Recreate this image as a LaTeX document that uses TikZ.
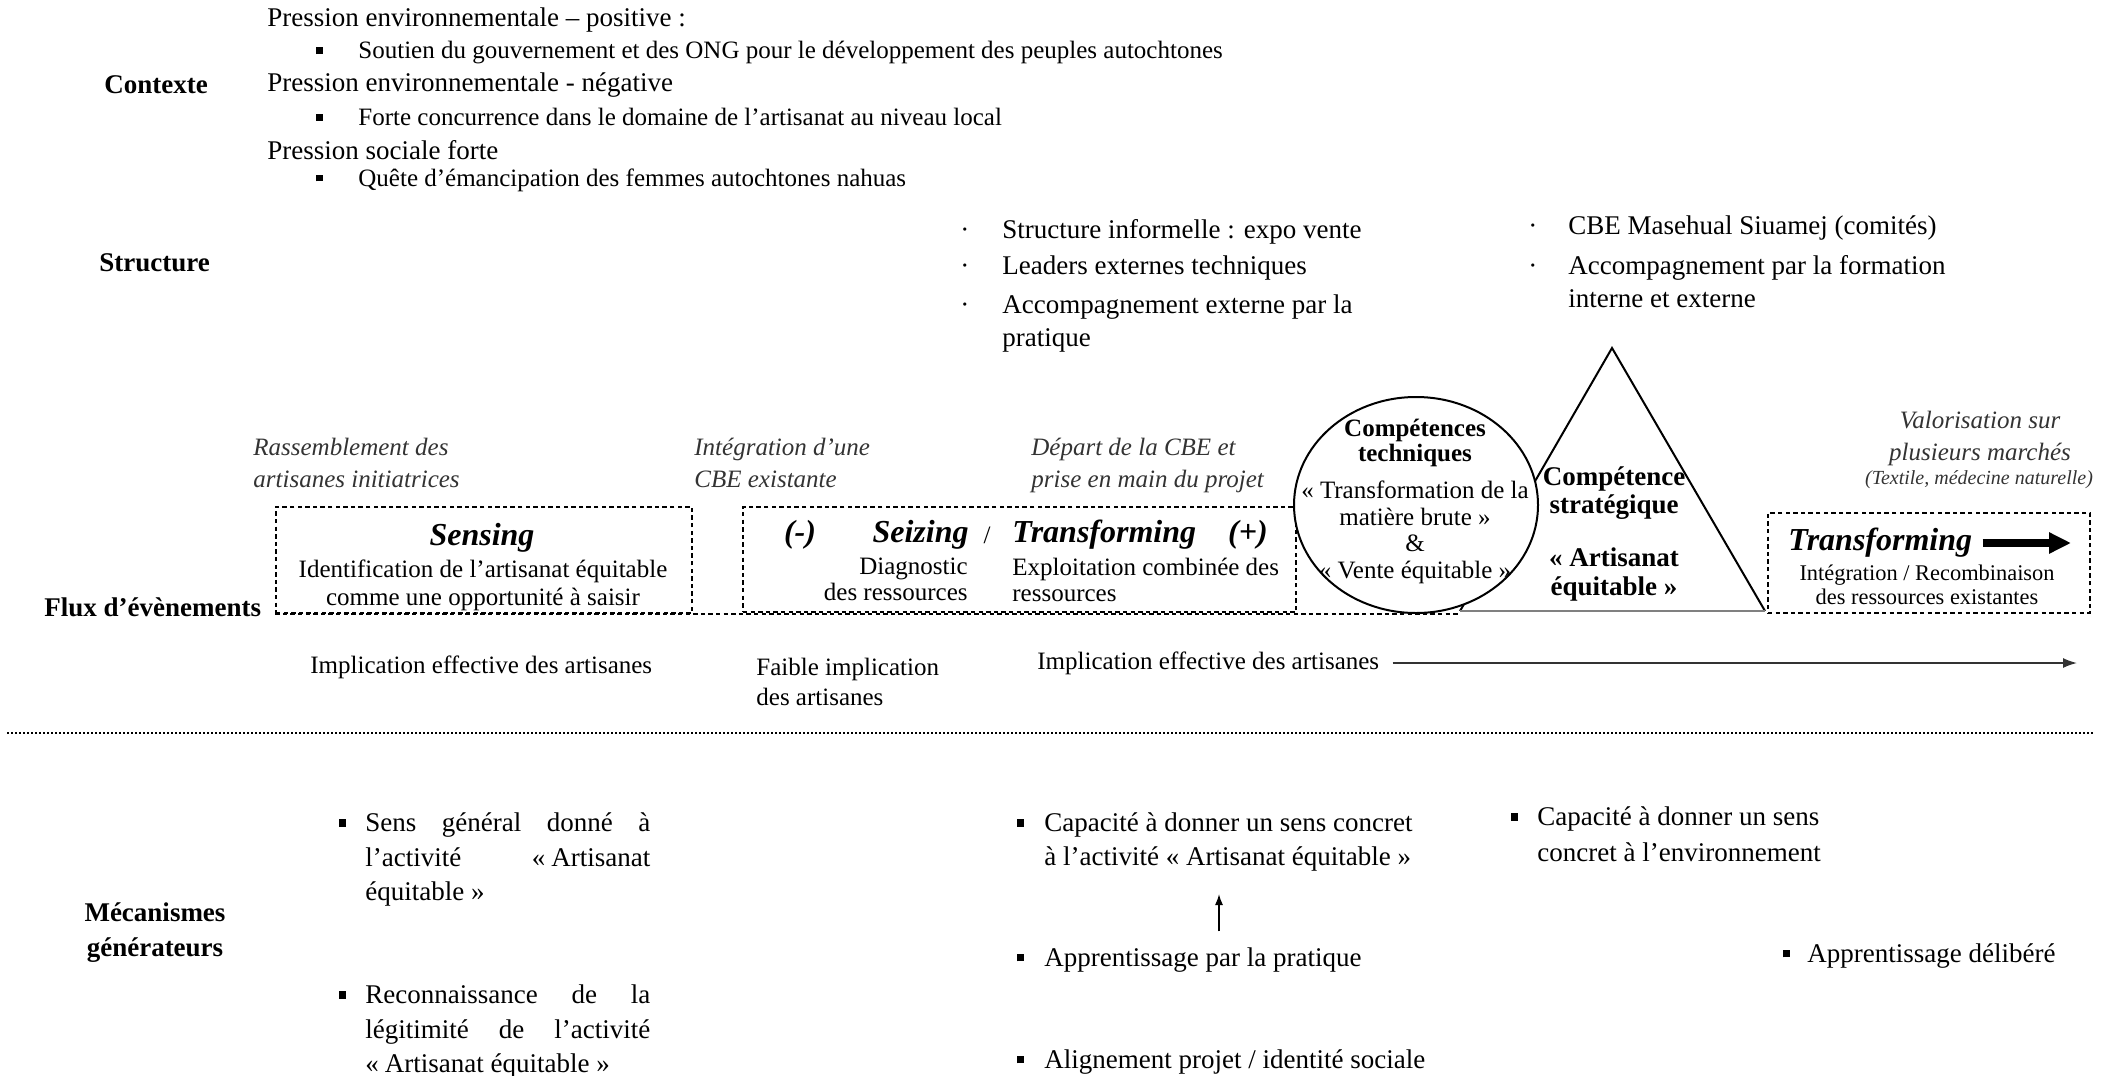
\documentclass[tikz,border=0pt]{standalone}
\usepackage{fontspec}
\setmainfont{Liberation Serif}
\usetikzlibrary{arrows.meta,shapes.geometric}
\newcommand{\sqbul}{\rule[0.19em]{0.27em}{0.27em}}

\begin{document}
\begin{tikzpicture}[x=0.5pt,y=-0.5pt,
	cat/.style={anchor=west, inner sep=0pt, font=\fontsize{13.5}{17.5}\selectfont\bfseries},
	big/.style={anchor=west, inner sep=0pt, font=\fontsize{13.5}{17.5}\selectfont},
	med/.style={anchor=west, inner sep=0pt, font=\fontsize{12.5}{16.5}\selectfont},
	evt/.style={anchor=north west, inner sep=0pt, align=left, text=black!80, font=\fontsize{12.5}{16}\selectfont\itshape},
	title/.style={inner sep=0pt, font=\fontsize{16}{18}\selectfont\bfseries\itshape},
	phase/.style={draw, dash pattern=on 2.2pt off 1.6pt, line width=0.8pt}]
	\useasboundingbox (0,0) rectangle (2107,1075);

	\node (K1) at (104,85)	[cat]	{Contexte};
	\node (K2) at (99,263)	[cat]	{Structure};
	\node (K3) at (44,607)	[cat]	{Flux d’évènements};
	\node (K4) at (155,902.7)	[cat, anchor=north, align=center]	{Mécanismes\\générateurs};

	\node (P1) at (267,20)	[big]	{Pression environnementale – positive :};
	\node (P1a) at (316,53)	[med]	{\makebox[21pt][l]{\sqbul}Soutien du gouvernement et des ONG pour le développement des peuples autochtones};
	\node (P2) at (267,85)	[big]	{Pression environnementale - négative};
	\node (P2a) at (316,117)	[med]	{\makebox[21pt][l]{\sqbul}Forte concurrence dans le domaine de l’artisanat au niveau local};
	\node (P3) at (267,150)	[big]	{Pression sociale forte};
	\node (P3a) at (316,180)	[med]	{\makebox[21pt][l]{\sqbul}Quête d’émancipation des femmes autochtones nahuas};

	\node (A1) at (960,232)	[big]	{\makebox[21pt][l]{·}Structure informelle : expo vente};
	\node (A2) at (960,268)	[big]	{\makebox[21pt][l]{·}Leaders externes techniques};
	\node (A3) at (960,294.7)	[big, anchor=north west, align=left, font=\fontsize{13.5}{16.5}\selectfont]	{\makebox[21pt][l]{·}Accompagnement externe par la\\\hspace*{21pt}pratique};
	\node (A4) at (1528,228)	[big]	{\makebox[20pt][l]{·}CBE Masehual Siuamej (comités)};
	\node (A5) at (1528,254.7)	[big, anchor=north west, align=left, font=\fontsize{13.5}{16.5}\selectfont]	{\makebox[20pt][l]{·}Accompagnement par la formation\\\hspace*{20pt}interne et externe};

	\node (E1) at (253,438)	[evt]	{Rassemblement des\\artisanes initiatrices};
	\node (E2) at (694,438)	[evt]	{Intégration d’une\\CBE existante};
	\node (E3) at (1031,438)	[evt]	{Départ de la CBE et\\prise en main du projet};
	\node (V1) at (1980,410.5)	[evt, anchor=north, align=center]	{Valorisation sur\\plusieurs marchés};
	\node (V2) at (1979,480)	[inner sep=0pt, text=black!80, font=\fontsize{10}{12}\selectfont\itshape]	{(Textile, médecine naturelle)};

	\coordinate (TA) at (1612,348);
	\coordinate (TL) at (1460,611);
	\coordinate (TR) at (1765,611);
	\draw[line width=1pt] (TL) -- (TA) -- (TR);
	\draw[gray, line width=0.8pt] (TL) -- (TR);

	\node (F1) at (484,560)	[phase, minimum width=208pt, minimum height=53pt]	{};
	\node (F2) at (1019.5,559.5)	[phase, minimum width=276.5pt, minimum height=52.5pt]	{};
	\node (F3) at (1929,563)	[phase, minimum width=161pt, minimum height=50pt]	{};
	\draw[phase] (F1.south west) -- (F1.south west -| TL);

	\node (CT) at (1416,505)	[ellipse, draw, fill=white, line width=1pt, minimum width=122pt, minimum height=108pt, inner sep=0pt]	{};
	\node (CT1) at (1415,418.5)	[inner sep=0pt, anchor=north, align=center, font=\fontsize{12.5}{12.5}\selectfont\bfseries]	{Compétences\\techniques};
	\node (CT2) at (1415,480.5)	[inner sep=0pt, anchor=north, align=center, font=\fontsize{12.5}{13.3}\selectfont]	{« Transformation de la\\matière brute »\\\&\\« Vente équitable »};
	\node (ST1) at (1614,466.7)	[inner sep=0pt, anchor=north, align=center, font=\fontsize{13.5}{14}\selectfont\bfseries]	{Compétence\\stratégique};
	\node (ST2) at (1614,547.7)	[inner sep=0pt, anchor=north, align=center, font=\fontsize{13.5}{14.5}\selectfont\bfseries]	{« Artisanat\\équitable »};

	\node (S1) at (482,538)	[title]	{Sensing};
	\node (S2) at (483,559.5)	[med, anchor=north, align=center, font=\fontsize{12.5}{14}\selectfont]	{Identification de l’artisanat équitable\\comme une opportunité à saisir};

	\node (Z0) at (800,535)	[title]	{(-)};
	\node (Z1) at (969,535)	[title, anchor=east]	{Seizing};
	\node (Z2) at (987,535)	[inner sep=0pt, font=\fontsize{12.5}{14}\selectfont]	{/};
	\node (Z3) at (1012,535)	[title, anchor=west]	{Transforming};
	\node (Z4) at (1248,535)	[title]	{(+)};
	\node (Z5) at (968,557.5)	[med, anchor=north east, align=right, font=\fontsize{12.5}{13}\selectfont]	{Diagnostic\\des ressources};
	\node (Z6) at (1012,557.5)	[med, anchor=north west, align=left, font=\fontsize{12.5}{13}\selectfont]	{Exploitation combinée des\\ressources};

	\node (R1) at (1788,543)	[title, anchor=west]	{Transforming};
	\node (R2) at (1927,564.5)	[inner sep=0pt, anchor=north, align=center, font=\fontsize{11.2}{12}\selectfont]	{Intégration / Recombinaison\\des ressources existantes};
	\coordinate (FA) at (2071,543);
	\draw[line width=4pt, -{Triangle[length=11pt,width=10pt]}, shorten <=5pt] (R1.east) -- (R1.east -| FA);

	\node (I1) at (310,667)	[med]	{Implication effective des artisanes};
	\node (I2) at (756,657.5)	[med, anchor=north west, align=left, font=\fontsize{12.5}{15}\selectfont]	{Faible implication\\des artisanes};
	\node (I3) at (1037,663)	[med]	{Implication effective des artisanes};
	\coordinate (IE) at (2077,663);
	\draw[black!80, line width=0.8pt, -{Latex[length=7pt,width=5pt]}, shorten <=6.5pt] (I3.east) -- (I3.east -| IE);

	\coordinate (SL) at (7,733);
	\coordinate (SR) at (2095,733);
	\draw[line width=1.2pt, dash pattern=on 1pt off 1pt] (SL) -- (SR);

	\node (L1) at (365,812.7)	[big, anchor=north west, text width=142.5pt, align=justify, font=\fontsize{13.5}{17.25}\selectfont]	{\noindent\llap{\sqbul\hspace{9.5pt}}Sens général donné à\linebreak l’activité «\hspace{3pt}Artisanat\linebreak équitable »};
	\node (L2) at (365,984.7)	[big, anchor=north west, text width=142.5pt, align=justify, font=\fontsize{13.5}{17.25}\selectfont]	{\noindent\llap{\sqbul\hspace{9.5pt}}Reconnaissance de la\linebreak légitimité de l’activité\linebreak «\hspace{3pt}Artisanat équitable »};
	\node (M1) at (1044,812.7)	[big, anchor=north west, align=left, font=\fontsize{13.5}{17}\selectfont]	{\llap{\sqbul\hspace{10pt}}Capacité à donner un sens concret\\à l’activité « Artisanat équitable »};
	\node (M2) at (1044,960)	[big]	{\llap{\sqbul\hspace{10pt}}Apprentissage par la pratique};
	\node (M3) at (1044,1062)	[big]	{\llap{\sqbul\hspace{10pt}}Alignement projet / identité sociale};
	\node (N1) at (1537,806.7)	[big, anchor=north west, align=left, font=\fontsize{13.5}{18}\selectfont]	{\llap{\sqbul\hspace{9.5pt}}Capacité à donner un sens\\concret à l’environnement};
	\node (N2) at (1807,956)	[big]	{\llap{\sqbul\hspace{8.5pt}}Apprentissage délibéré};
	\coordinate (UA) at (1219,0);
	\draw[line width=0.7pt, -{Latex[length=5.5pt,width=4pt]}, shorten <=8pt, shorten >=11pt] (M2.north -| UA) -- (M1.south -| UA);
\end{tikzpicture}
\end{document}
